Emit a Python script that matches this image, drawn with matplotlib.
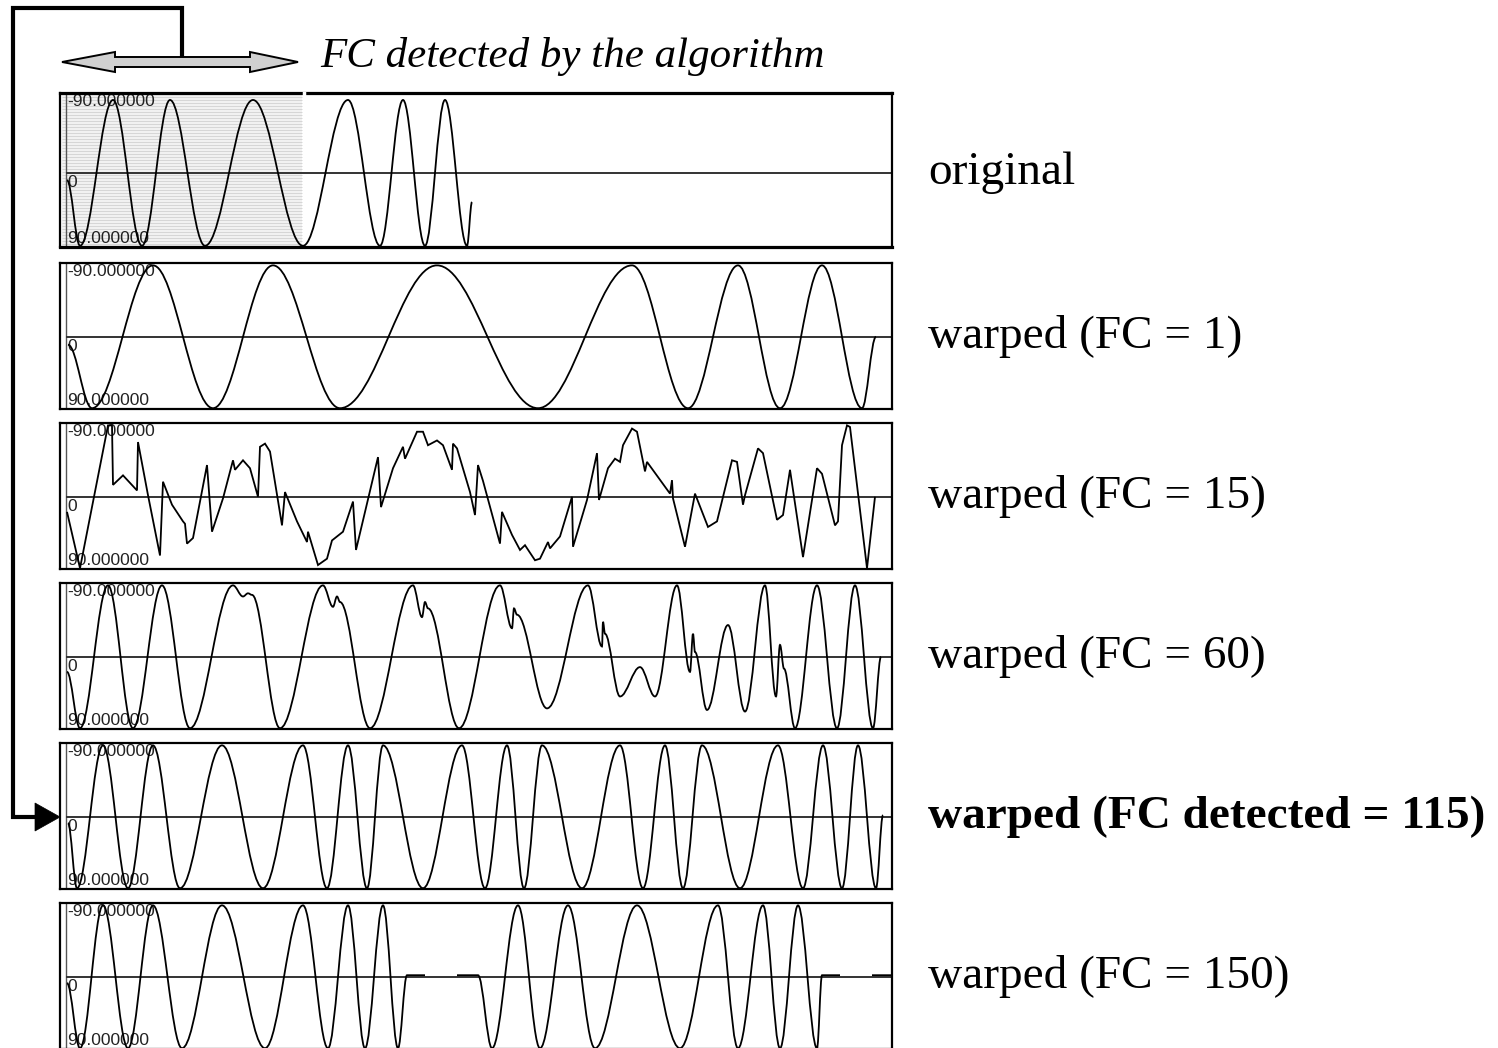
import matplotlib
matplotlib.use('Agg')
import matplotlib.pyplot as plt
from matplotlib.path import Path
from matplotlib.patches import PathPatch, Polygon
import numpy as np

plt.rcParams.update({
    'font.family': ['Liberation Serif', 'DejaVu Serif'],
})

W, H = 1498, 1048
SERIF = ['Liberation Serif', 'DejaVu Serif']
PIXFONT = ['Liberation Sans Narrow', 'Liberation Sans', 'DejaVu Sans']

# ── Data: key points of each trace (sample position, angle) ──────────
orig_x = [67, 80, 113, 142, 170, 205, 253, 303, 348, 380, 403, 425, 445, 467, 472]
orig_y = [9, 90, -90, 90, -90, 90, -90, 90, -90, 90, -90, 90, -90, 90, 36]

fc1_x = [68, 92, 153, 213, 273, 340, 437, 538, 632, 688, 738, 780, 822, 862, 876]
fc1_y = [10, 90, -90, 90, -90, 90, -90, 90, -90, 90, -90, 90, -90, 90, 0]

fc15_x = [67, 80, 108, 112, 113, 123, 137, 138, 148, 160, 163, 172, 183, 185,
          187, 193, 207, 212, 223, 233, 235, 243, 250, 258, 260, 265, 270,
          282, 285, 297, 307, 308, 318, 327, 332, 343, 353, 356, 378, 381,
          393, 403, 405, 417, 423, 428, 437, 443, 452, 453, 457, 470, 475,
          478, 483, 500, 502, 512, 520, 525, 535, 540, 548, 550, 560, 572,
          573, 587, 597, 599, 608, 615, 620, 623, 632, 637, 645, 647, 670,
          672, 673, 685, 695, 708, 717, 732, 737, 743, 745, 758, 763, 777,
          783, 790, 803, 817, 822, 835, 838, 842, 847, 850, 867, 875]
fc15_y = [19, 90, -90, -90, -15, -27, -8, -69, -2, 74, -19, 10, 31, 34,
          59, 52, -40, 44, 2, -46, -34, -46, -36, 0, -63, -67, -57,
          36, -6, 31, 57, 44, 86, 78, 55, 44, 6, 67, -50, 13,
          -36, -63, -48, -82, -82, -65, -71, -65, -34, -67, -61, -6, 23,
          -40, -20, 59, 19, 48, 67, 61, 80, 78, 57, 65, 50, 0,
          63, 4, -55, 4, -36, -48, -44, -65, -86, -82, -32, -44, -4,
          -21, 2, 63, -4, 38, 31, -46, -44, 10, -2, -61, -55, 29,
          23, -34, 76, -36, -29, 36, 31, -65, -90, -88, 90, 0]

fc60_x = [67, 80, 108, 133, 162, 190, 233, 243, 248, 252, 280, 323, 333, 337,
          340, 370, 413, 422, 425, 428, 459, 500, 512, 514, 517, 547, 588,
          602, 603, 605, 620, 640, 655, 677, 690, 693, 695, 707, 728, 745,
          765, 776, 780, 784, 795, 817, 837, 855, 873, 881]
fc60_y = [19, 90, -90, 90, -90, 90, -90, -76, -80, -78, 90, -90, -63, -76,
          -69, 90, -90, -50, -69, -61, 90, -90, -36, -61, -53, 65, -90,
          -13, -44, -29, 50, 13, 50, -90, 19, -29, -6, 67, -40, 69,
          -90, 50, -15, 15, 90, -90, 90, -90, 90, 0]

fc115_x = [68, 77, 103, 128, 153, 180, 222, 263, 303, 327, 348, 367, 383, 423,
           462, 485, 507, 524, 542, 582, 620, 643, 665, 683, 702, 740, 778,
           803, 823, 842, 858, 876, 883]
fc115_y = [8, 90, -90, 90, -90, 90, -90, 90, -90, 90, -90, 90, -90, 90,
           -90, 90, -90, 90, -90, 90, -90, 90, -90, 90, -90, 90, -90,
           90, -90, 90, -90, 90, -2]

fc150_x = [67, 80, 103, 128, 153, 182, 222, 265, 303, 328, 348, 365, 383, 398,
           407, 425, 440, 457, 478, 492, 518, 540, 568, 595, 637, 680, 718,
           738, 763, 780, 798, 817, 822, 840, 856, 872, 891]
fc150_y = [8, 90, -90, 90, -90, 90, -90, 90, -90, 90, -90, 90, -90, 90,
           -2, -2, np.nan, -2, -2, 90, -90, 90, -90, 90, -90, 90, -90,
           90, -90, 90, -90, 90, -2, -2, np.nan, -2, -2]

traces = [(orig_x, orig_y), (fc1_x, fc1_y), (fc15_x, fc15_y),
          (fc60_x, fc60_y), (fc115_x, fc115_y), (fc150_x, fc150_y)]
labels = ['original', 'warped (FC = 1)', 'warped (FC = 15)',
          'warped (FC = 60)', 'warped (FC detected = 115)', 'warped (FC = 150)']
smooth_flags = [True, True, False, True, True, True]

# ── Layout (pixels) ───────────────────────────────────────────────────
panel_top = [93, 263, 423, 583, 743, 903]
panel_h = [154, 146, 146, 146, 146, 146]
panel_ylim = [(91.5, -98.6), (91, -93), (91, -93), (91, -93), (91, -93), (91, -93)]
X0, X1 = 60, 892


def wave_path(xs, ys, smooth=True):
    """Bezier path through key points (horizontal tangents at each point)."""
    verts, codes = [], []
    pen_up = True
    for x, y in zip(xs, ys):
        if np.isnan(y):
            pen_up = True
            continue
        if pen_up:
            verts.append((x, y))
            codes.append(Path.MOVETO)
            pen_up = False
        elif smooth:
            x0, y0 = verts[-1]
            dx = x - x0
            verts += [(x0 + 0.364 * dx, y0), (x - 0.364 * dx, y), (x, y)]
            codes += [Path.CURVE4] * 3
        else:
            verts.append((x, y))
            codes.append(Path.LINETO)
    return Path(verts, codes)


fig = plt.figure(figsize=(W / 100, H / 100), dpi=100)
fig.patch.set_facecolor('white')

for i, ((xs, ys), lab) in enumerate(zip(traces, labels)):
    top, h = panel_top[i], panel_h[i]
    ax = fig.add_axes([X0 / W, 1 - (top + h) / H, (X1 - X0) / W, h / H])
    ax.set_xlim(X0, X1)
    ax.set_ylim(*panel_ylim[i])
    ax.set_xticks([])
    ax.set_yticks([])
    for sp in ax.spines.values():
        sp.set_linewidth(1.6)
        sp.set_color('black')

    lo, hi = panel_ylim[i]
    if i == 0:
        # highlighted part of the original (the detected FC window)
        ax.axvspan(62, 302, color='#f1f1f1', lw=0, zorder=0)
        ax.hlines(np.arange(hi + 1, lo, 3.7), 62, 302, color='#d6d6d6',
                  lw=0.7, zorder=0.5)
        ax.spines['top'].set_linewidth(2.3)
        ax.spines['bottom'].set_linewidth(2.3)
        ax.plot([303.5, 303.5], [hi, hi + 3], color='white', lw=2.5,
                clip_on=False, zorder=6)

    ax.vlines(66, lo, hi, color='#555555', lw=1.0, zorder=1)
    ax.hlines(0, 66, X1, color='#333333', lw=1.4, zorder=1)

    ax.add_patch(PathPatch(wave_path(xs, ys, smooth_flags[i]), fill=False,
                           ec='black', lw=1.3, zorder=3))

    # scale labels
    lbl_kw = dict(fontsize=12.5, family=PIXFONT, color='#222222', zorder=2)
    ax.text(67, hi + 1, '-90.000000', ha='left', va='top', **lbl_kw)
    ax.text(67, 3, '0', ha='left', va='top', **lbl_kw)
    ax.text(67, lo - 1, '90.000000', ha='left', va='bottom', **lbl_kw)

    ax.text((928 - X0) / (X1 - X0), 0, lab, transform=ax.get_yaxis_transform(),
            ha='left', va='center', fontsize=34, family=SERIF,
            fontweight='bold' if i == 4 else 'normal', clip_on=False)

# ── Overlay: double arrow + connector to the detected trace ──────────
ov = fig.add_axes([0, 0, 1, 1])
ov.set_xlim(0, W)
ov.set_ylim(H, 0)
ov.axis('off')
ov.patch.set_alpha(0)

dbl = Polygon([(62, 62), (115, 52), (115, 57), (250, 57), (250, 52),
               (298, 62), (250, 72), (250, 67), (115, 67), (115, 72)],
              closed=True, fc='#d0d0d0', ec='black', lw=1.4, zorder=5)
ov.add_patch(dbl)
ov.text(320, 57, 'FC detected by the algorithm', ha='left', va='center',
        fontsize=31, style='italic', family=SERIF)

ov.plot([182, 182, 13, 13, 36], [57, 8, 8, 817, 817], color='black', lw=3,
        solid_joinstyle='miter', solid_capstyle='butt', zorder=6)
ov.add_patch(Polygon([(35, 803), (60, 817), (35, 831)], closed=True,
                     fc='black', ec='black', lw=0.5, zorder=6))

fig.savefig('out.png', dpi=100, facecolor='white')
plt.close()
